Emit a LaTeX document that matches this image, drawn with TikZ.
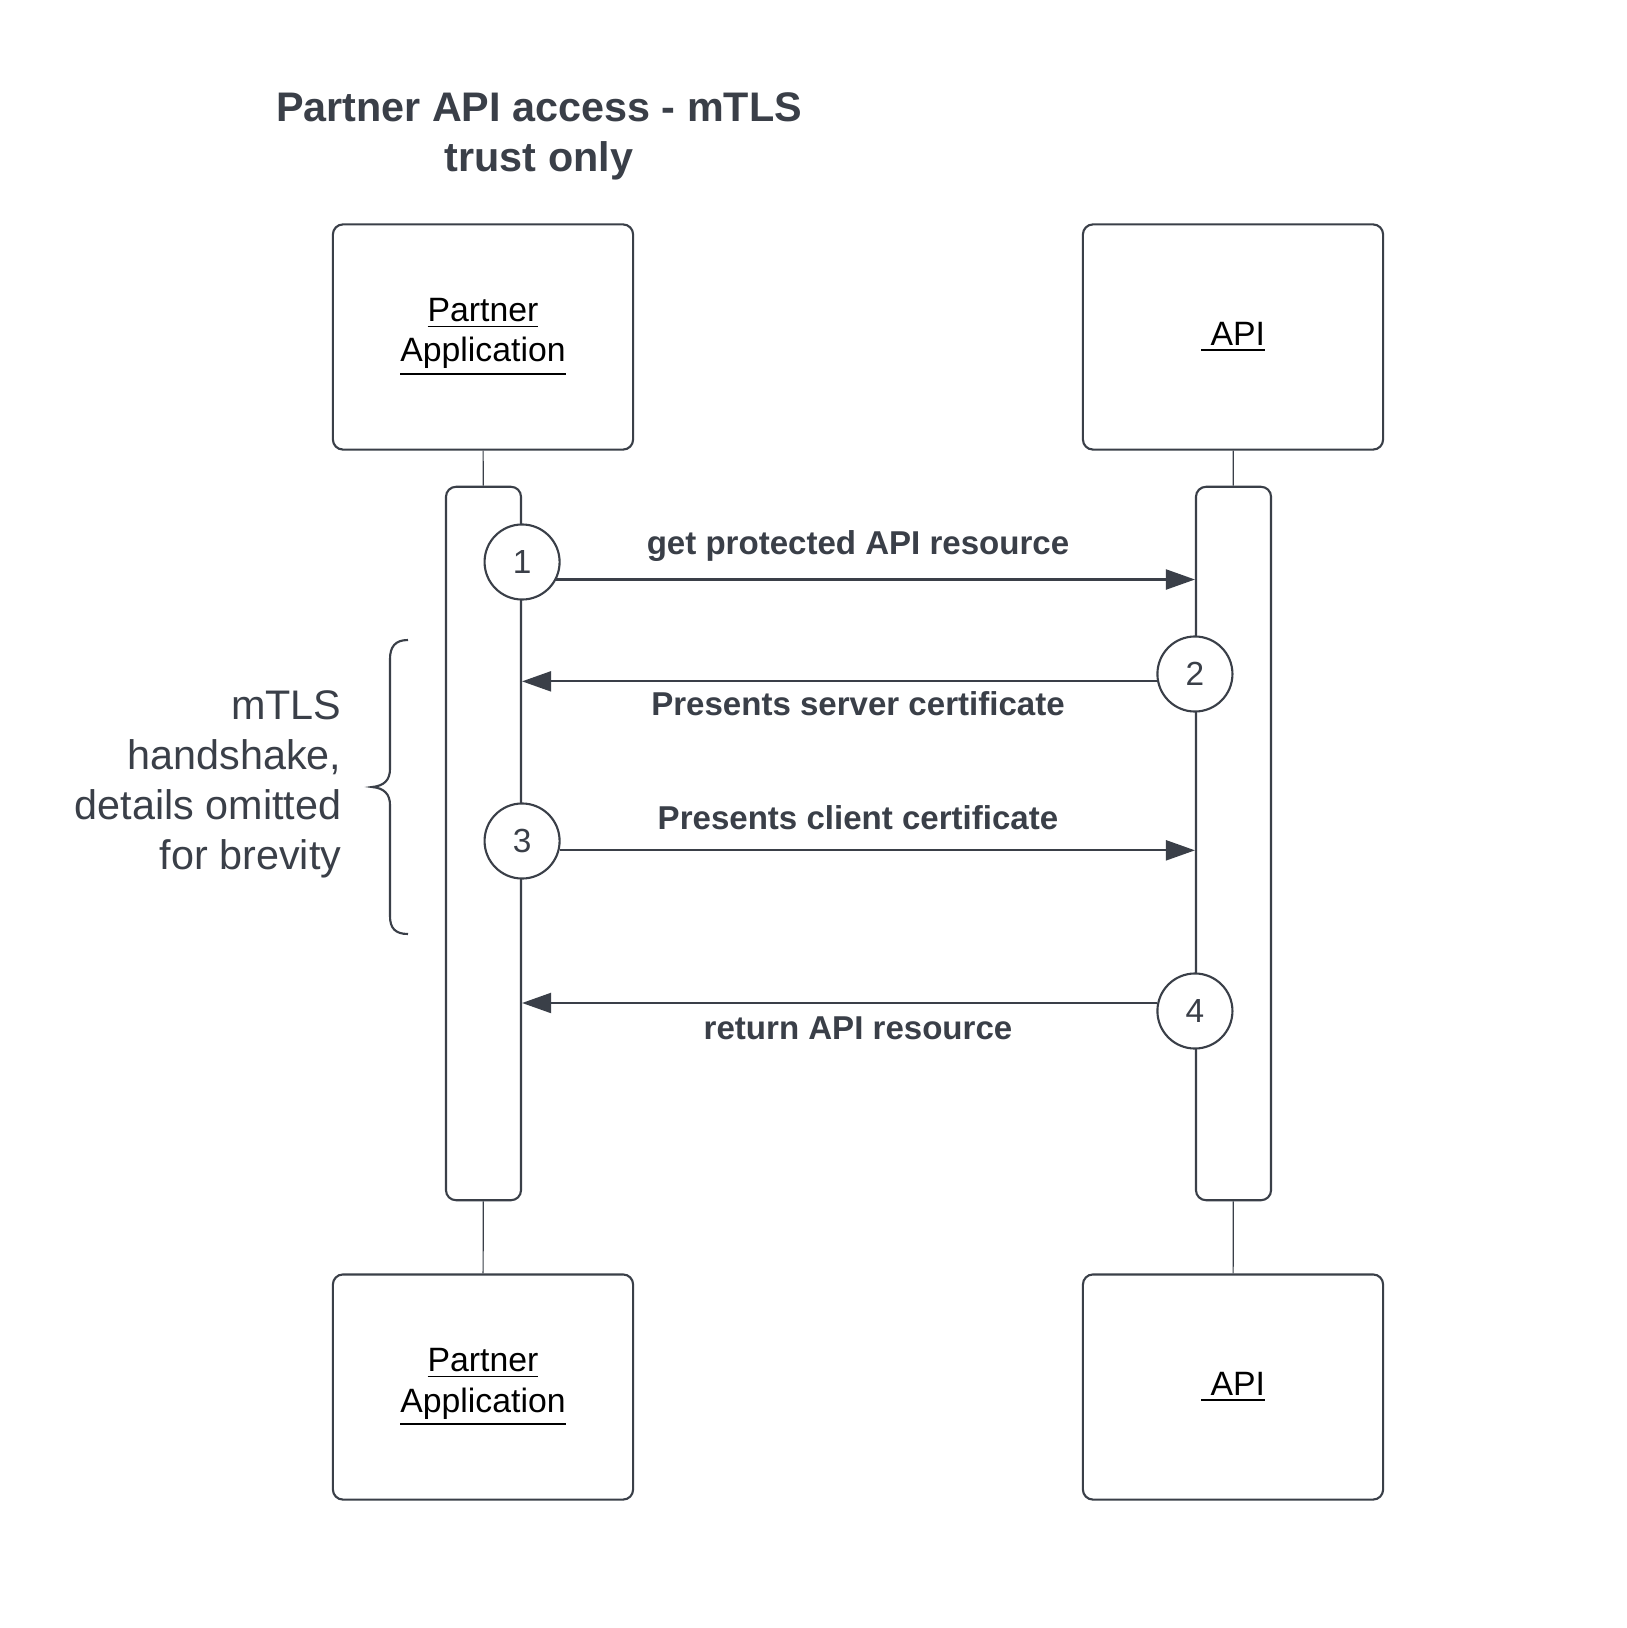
\documentclass[tikz,border=0pt]{standalone}
\usepackage{fontspec}
\setmainfont{Liberation Sans}
\usetikzlibrary{arrows.meta}
\definecolor{ink}{HTML}{3A3F48}
\begin{document}
\begin{tikzpicture}[x=0.01cm,y=-0.01cm,>={Triangle[length=2.9mm,width=2mm]},
actor/.style={draw=ink,line width=0.6pt,rounded corners=1mm,minimum width=3cm,minimum height=2.25cm,align=center,font=\fontsize{9.6}{11.6}\selectfont},
bar/.style={draw=ink,line width=0.6pt,rounded corners=1mm,minimum width=0.75cm,minimum height=7.13cm,inner sep=0pt},
num/.style={circle,draw=ink,fill=white,line width=0.6pt,minimum size=0.75cm,inner sep=0pt,text=ink,font=\fontsize{9.5}{11}\selectfont},
msg/.style={->,draw=ink,line width=0.6pt},
msgtxt/.style={text=ink,font=\bfseries\fontsize{9.4}{11}\selectfont},
life/.style={draw=ink,line width=0.35pt}]
\fill[white](0,0)rectangle(1626,1628);
\useasboundingbox(0,0)rectangle(1626,1628);
\node[text=ink,align=center,font=\bfseries\fontsize{11.75}{14.2}\selectfont](title)at(539,136){Partner API access - mTLS\\trust only};
% actors
\node[actor](pa)at(483,337){\underline{Partner}\\\underline{Application}};
\node[actor](api)at(1233,337){\underline{\ API}};
\node[actor](paB)at(483,1387){\underline{Partner}\\\underline{Application}};
\node[actor](apiB)at(1233,1387){\underline{\ API}};
% activation bars
\node[bar](paBar)at(483.5,843.5){};
\node[bar](apiBar)at(1233.5,843.5){};
\draw[life](pa)--(paBar) (paBar)--(paB);
\draw[life](api)--(apiBar) (apiBar)--(apiB);
% steps
\node[num](s1)at(paBar.east|-0,562){1};
\node[num](s2)at(apiBar.west|-0,674){2};
\node[num](s3)at(paBar.east|-0,841){3};
\node[num](s4)at(apiBar.west|-0,1011){4};
\draw[msg](s1.-27)--(s1.-27-|apiBar.west);
\draw[msg](s2.191)--(s2.191-|paBar.east);
\draw[msg](s3.-14)--(s3.-14-|apiBar.west);
\draw[msg](s4.168)--(s4.168-|paBar.east);
\node[msgtxt](t1)at(858,546){get protected API resource};
\node[msgtxt](t2)at(858,704){Presents server certificate};
\node[msgtxt](t3)at(858,818){Presents client certificate};
\node[msgtxt](t4)at(858,1028){return API resource};
% handshake note
\draw[ink,line width=0.6pt](408,640)..controls(395,640)and(390,647)..(390,659)--(390,769)..controls(390,780)and(384,786)..(372,787)..controls(384,788)and(390,794)..(390,805)--(390,916)..controls(390,928)and(395,934)..(408,934);
\node[text=ink,align=right,anchor=east,inner sep=0pt,font=\fontsize{11.75}{14.2}\selectfont](note)at(342,784){mTLS\\handshake,\\details omitted\\for brevity};
\end{tikzpicture}
\end{document}
